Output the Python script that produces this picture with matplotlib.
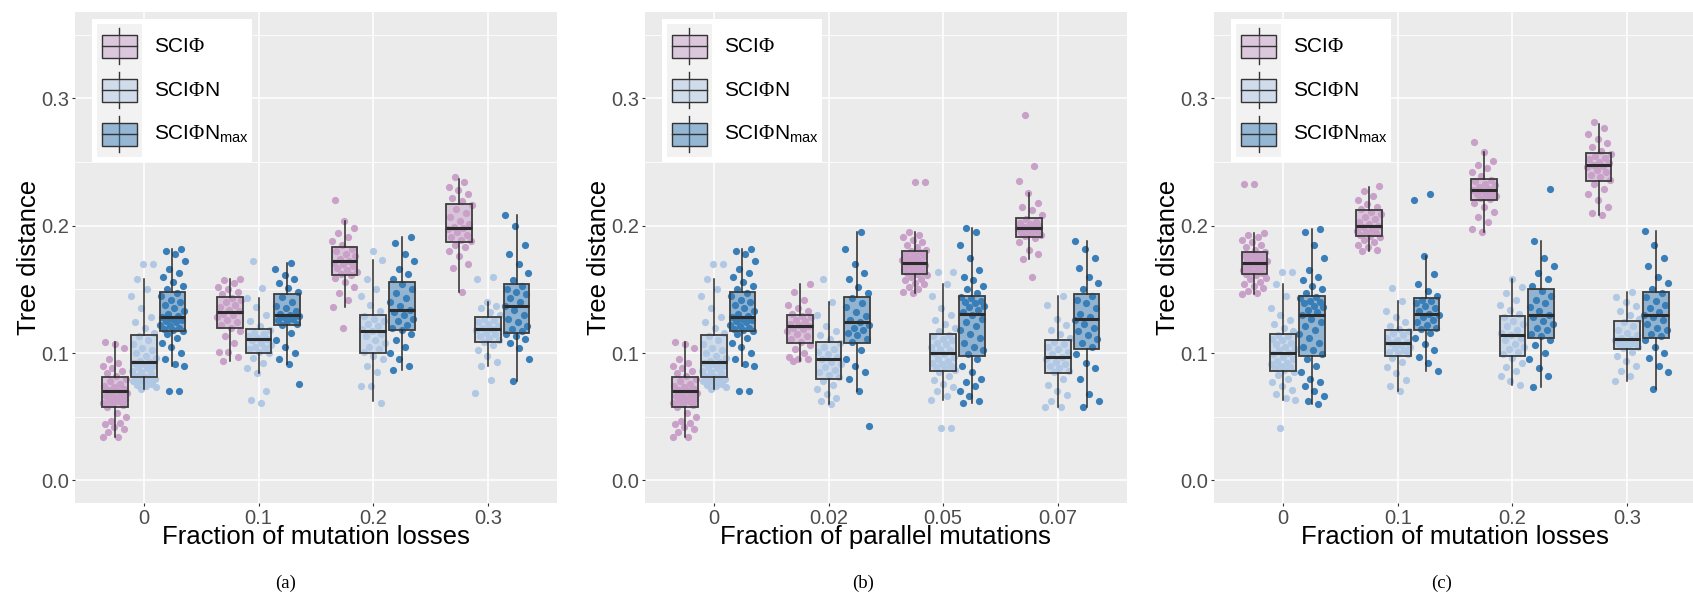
import numpy as np
import matplotlib
matplotlib.use("Agg")
import matplotlib.pyplot as plt
from matplotlib.colors import to_rgba
from matplotlib.patches import Rectangle

plt.rcParams["font.family"] = ["Liberation Sans", "DejaVu Sans"]
plt.rcParams["mathtext.fontset"] = "custom"
plt.rcParams["mathtext.rm"] = "Liberation Serif"
plt.rcParams["mathtext.sf"] = "Liberation Sans"

# ===================== data =====================
methods = [r"SCI$\mathrm{\Phi}$", r"SCI$\mathrm{\Phi}$N", r"SCI$\mathrm{\Phi}$N$_{\mathsf{max}}$"]
colors = ["#C8A0C8", "#B0C8E4", "#3A7EB8"]

loss_levels = ["0", "0.1", "0.2", "0.3"]
parallel_levels = ["0", "0.02", "0.05", "0.07"]

# tree distance x 1000
# box summaries: (whisker low, q1, median, q3, whisker high)
a_phi_box = [(34, 58, 70, 81, 109), (94, 120, 132, 144, 158), (136, 161, 172, 183, 204), (148, 187, 198, 217, 237)]
a_phin_box = [(72, 81, 93, 114, 158), (84, 100, 111, 119, 143), (62, 100, 117, 130, 173), (90, 109, 119, 128, 140)]
a_nmax_box = [(90, 117, 128, 148, 182), (91, 122, 130, 146, 171), (87, 118, 134, 156, 191), (78, 116, 137, 154, 208)]

b_phi_box = [(34, 58, 70, 81, 109), (94, 108, 121, 130, 154), (147, 162, 171, 180, 195), (174, 191, 198, 206, 226)]
b_phin_box = [(72, 81, 93, 114, 158), (60, 80, 95, 109, 140), (63, 86, 100, 115, 154), (58, 84, 97, 110, 145)]
b_nmax_box = [(90, 117, 128, 148, 182), (70, 108, 124, 144, 195), (61, 98, 131, 145, 198), (58, 103, 127, 146, 188)]

c_phi_box = [(146, 162, 171, 179, 194), (180, 192, 200, 212, 230), (195, 220, 228, 237, 258), (208, 235, 248, 257, 280)]
c_phin_box = [(63, 86, 100, 115, 154), (70, 98, 108, 118, 141), (75, 98, 114, 129, 158), (78, 103, 111, 125, 148)]
c_nmax_box = [(60, 98, 130, 145, 197), (86, 118, 131, 143, 176), (73, 112, 130, 150, 188), (72, 112, 130, 148, 196)]

# individual runs
base_phi = [34, 34, 38, 40, 42, 44, 45, 47, 50, 53, 58, 59, 60, 61, 62, 63, 64, 65, 66, 67,
            68, 69, 70, 71, 72, 73, 74, 76, 78, 80, 82, 84, 86, 88, 90, 92, 95, 104, 107, 109]
base_phin = [72, 73, 74, 75, 76, 77, 78, 79, 80, 80, 81, 82, 84, 85, 86, 88, 89, 90, 91, 92,
             93, 94, 96, 98, 100, 102, 104, 107, 110, 113, 116, 120, 124, 128, 135, 145, 150, 158, 170, 170]
base_nmax = [70, 70, 90, 91, 95, 100, 105, 108, 112, 115, 117, 118, 119, 120, 121, 122, 124, 125, 126, 127,
             128, 129, 131, 133, 135, 138, 140, 142, 145, 147, 150, 153, 156, 160, 163, 166, 172, 178, 180, 182]

a_phi_pts = [
    base_phi,
    [94, 97, 101, 101, 108, 113, 117, 120, 122, 124, 126, 128, 130, 131, 133, 134, 136, 138, 140, 142,
     143, 146, 148, 150, 152, 155, 157, 158],
    [120, 136, 142, 147, 152, 156, 159, 161, 162, 164, 165, 167, 168, 170, 171, 172, 174, 176, 178, 180,
     182, 185, 188, 191, 194, 198, 204, 220],
    [148, 167, 170, 176, 180, 183, 185, 188, 189, 191, 193, 195, 197, 198, 199, 201, 204, 207, 210, 213,
     216, 219, 222, 225, 228, 230, 234, 238],
]
a_phin_pts = [
    base_phin,
    [61, 63, 70, 84, 88, 92, 96, 100, 101, 103, 104, 105, 106, 108, 110, 111, 112, 113, 115, 116,
     118, 121, 125, 130, 136, 143, 151, 172],
    [61, 74, 74, 85, 90, 95, 98, 101, 103, 105, 108, 110, 113, 115, 117, 119, 121, 123, 125, 127,
     129, 133, 138, 145, 150, 158, 173, 180],
    [69, 79, 90, 93, 98, 102, 106, 109, 110, 112, 113, 115, 116, 118, 119, 120, 121, 123, 124, 126,
     127, 130, 132, 135, 137, 140, 158, 160],
]
a_nmax_pts = [
    base_nmax,
    [76, 91, 95, 100, 105, 110, 116, 122, 123, 125, 126, 127, 128, 129, 130, 131, 133, 135, 137, 140,
     144, 148, 151, 155, 158, 161, 166, 171],
    [87, 90, 95, 100, 105, 110, 115, 118, 120, 122, 125, 127, 130, 132, 134, 137, 140, 143, 147, 150,
     154, 158, 162, 166, 172, 178, 186, 191],
    [78, 95, 104, 108, 111, 113, 115, 117, 119, 121, 124, 127, 130, 134, 137, 140, 143, 146, 148, 150,
     153, 157, 163, 170, 178, 185, 200, 208],
]

b_phi_pts = [
    base_phi,
    [94, 95, 95, 97, 100, 103, 106, 109, 111, 113, 115, 117, 119, 120, 121, 122, 123, 125, 126, 128,
     129, 131, 133, 135, 138, 142, 148, 154],
    [147, 148, 150, 152, 154, 155, 157, 158, 160, 161, 162, 163, 164, 165, 166, 167, 168, 169, 170, 171,
     171, 172, 173, 174, 175, 176, 177, 178, 179, 180, 181, 183, 185, 187, 189, 191, 193, 195, 234, 234],
    [160, 174, 178, 181, 187, 190, 192, 193, 194, 195, 196, 197, 198, 198, 199, 200, 201, 202, 203, 205,
     208, 212, 215, 218, 226, 235, 247, 287],
]
b_phin_pts = [
    base_phin,
    [60, 62, 65, 68, 72, 75, 78, 81, 83, 85, 87, 89, 91, 93, 95, 97, 99, 101, 103, 105,
     108, 111, 114, 117, 121, 130, 140, 158],
    [41, 41, 63, 66, 70, 73, 76, 79, 82, 85, 87, 88, 89, 90, 91, 92, 94, 95, 97, 99,
     100, 102, 103, 105, 107, 108, 110, 111, 113, 114, 117, 120, 123, 126, 130, 135, 145, 154, 164, 164],
    [58, 58, 62, 67, 70, 75, 80, 85, 86, 88, 90, 91, 93, 95, 97, 99, 101, 103, 105, 107,
     109, 112, 115, 118, 122, 127, 138, 145],
]
b_nmax_pts = [
    base_nmax,
    [43, 70, 80, 85, 90, 95, 102, 109, 111, 114, 116, 118, 120, 122, 124, 126, 129, 132, 136, 139,
     143, 147, 152, 158, 163, 170, 182, 195],
    [61, 62, 66, 70, 74, 77, 80, 85, 90, 95, 99, 102, 105, 108, 112, 115, 118, 121, 124, 127,
     130, 132, 134, 136, 137, 139, 140, 141, 143, 144, 147, 150, 153, 157, 160, 165, 175, 185, 195, 198],
    [58, 62, 68, 80, 88, 92, 99, 105, 108, 111, 114, 117, 120, 123, 126, 128, 131, 135, 139, 142,
     145, 150, 155, 160, 167, 175, 182, 188],
]

c_phi_pts = [
    [146, 147, 149, 151, 153, 154, 156, 158, 159, 161, 162, 163, 164, 165, 166, 167, 168, 169, 170, 171,
     171, 172, 173, 174, 175, 176, 177, 178, 178, 179, 181, 183, 185, 187, 189, 191, 193, 194, 233, 233],
    [180, 181, 183, 185, 187, 189, 191, 192, 193, 194, 195, 196, 197, 199, 200, 201, 203, 205, 207, 209,
     211, 213, 215, 217, 220, 223, 227, 231],
    [195, 197, 203, 207, 211, 215, 218, 221, 222, 223, 224, 225, 226, 227, 228, 229, 230, 232, 233, 235,
     236, 239, 242, 245, 248, 251, 258, 266],
    [208, 210, 215, 220, 225, 229, 233, 236, 238, 240, 242, 244, 246, 247, 248, 249, 250, 252, 253, 255,
     256, 259, 262, 265, 268, 272, 277, 281],
]
c_phin_pts = [
    [41, 63, 65, 68, 71, 74, 77, 80, 83, 85, 87, 88, 89, 90, 91, 92, 94, 95, 97, 99,
     100, 102, 103, 105, 107, 108, 110, 111, 113, 114, 117, 120, 123, 126, 130, 135, 145, 154, 164, 164],
    [70, 74, 79, 84, 89, 93, 96, 99, 100, 101, 102, 104, 105, 106, 108, 109, 110, 112, 114, 116,
     117, 119, 121, 124, 128, 133, 141, 151],
    [75, 78, 82, 86, 89, 92, 96, 99, 101, 103, 105, 107, 110, 112, 114, 116, 118, 121, 123, 125,
     128, 131, 134, 138, 142, 147, 152, 158],
    [78, 82, 86, 90, 94, 98, 101, 104, 105, 106, 107, 108, 109, 110, 111, 112, 114, 116, 118, 121,
     124, 127, 130, 133, 137, 140, 144, 148],
]
c_nmax_pts = [
    [60, 62, 66, 70, 74, 77, 80, 85, 90, 95, 99, 102, 105, 108, 112, 115, 118, 121, 124, 127,
     130, 132, 134, 136, 137, 139, 140, 141, 143, 144, 147, 150, 153, 157, 160, 165, 175, 185, 195, 197],
    [86, 92, 97, 102, 107, 112, 116, 119, 120, 122, 124, 126, 128, 130, 131, 133, 135, 137, 139, 141,
     142, 145, 149, 154, 162, 176, 220, 225],
    [73, 82, 88, 95, 100, 106, 110, 113, 115, 118, 120, 123, 125, 128, 130, 133, 136, 139, 142, 145,
     149, 153, 158, 163, 168, 175, 188, 229],
    [72, 85, 90, 96, 100, 105, 110, 113, 115, 118, 120, 123, 126, 128, 130, 132, 135, 138, 141, 144,
     147, 150, 155, 160, 168, 175, 185, 196],
]

# ===================== style =====================
PANEL_BG = "#EBEBEB"
EDGE = "#3D3D3D"
TICK_COL = "#4D4D4D"
DODGE = 0.25
BOX_W = 0.225
JITTER = 0.22


def draw_panel(ax, levels, boxes, points, xlabel):
    ax.set_facecolor(PANEL_BG)
    for s, (box_list, pts_list, col) in enumerate(zip(boxes, points, colors)):
        off = (s - 1) * DODGE
        for g in range(len(levels)):
            vals = np.asarray(pts_list[g]) / 1000
            n = len(vals)
            spread = ((np.arange(n) * 0.618034 + 0.37 * s + 0.21 * g) % 1 - 0.5) * JITTER
            ax.scatter(g + off + spread, vals, s=27, color=col, linewidths=0, zorder=2)
        stats = [dict(whislo=b[0] / 1000, q1=b[1] / 1000, med=b[2] / 1000,
                      q3=b[3] / 1000, whishi=b[4] / 1000, fliers=[]) for b in box_list]
        ax.bxp(stats, positions=np.arange(len(levels)) + off, widths=BOX_W,
               patch_artist=True, showcaps=False, showfliers=False, manage_ticks=False,
               boxprops=dict(facecolor=to_rgba(col, 0.5), edgecolor=EDGE, linewidth=1.3),
               medianprops=dict(color="#2B2B2B", linewidth=2.2, solid_capstyle="butt"),
               whiskerprops=dict(color="#2B2B2B", linewidth=1.1),
               zorder=3)

    ax.set_xlim(-0.6, len(levels) - 0.4)
    ax.set_ylim(-0.0175, 0.3675)
    ax.set_xticks(np.arange(len(levels)))
    ax.set_xticklabels(levels)
    ax.set_yticks([0.0, 0.1, 0.2, 0.3])
    ax.set_yticklabels(["0.0", "0.1", "0.2", "0.3"])
    ax.set_yticks([0.05, 0.15, 0.25, 0.35], minor=True)
    ax.grid(which="major", color="white", linewidth=1.1, zorder=0)
    ax.grid(which="minor", axis="y", color="white", linewidth=0.55, zorder=0)
    ax.set_axisbelow(True)
    for sp in ax.spines.values():
        sp.set_visible(False)
    ax.tick_params(which="major", length=2.5, width=0.8, color="#333333",
                   labelsize=14.5, labelcolor=TICK_COL, pad=2)
    ax.tick_params(which="minor", length=0)

    ax.set_xlabel(xlabel, fontsize=18.5)
    ax.set_ylabel("Tree distance", fontsize=18.5)
    ax.xaxis.set_label_coords(0.5, -0.046)
    ax.yaxis.set_label_coords(-0.071, 0.5)

    # legend with boxplot keys
    lg = ax.inset_axes([0.0353, 0.6941, 0.3315, 0.2922])
    lg.set_xlim(0, 1)
    lg.set_ylim(0, 1)
    lg.set_facecolor("white")
    lg.set_xticks([])
    lg.set_yticks([])
    for sp in lg.spines.values():
        sp.set_visible(False)
    lg.add_patch(Rectangle((0.0294, 0.037), 0.2816, 0.928, facecolor="#F2F2F2", edgecolor="none"))
    for i, (name, col) in enumerate(zip(methods, colors)):
        cy = 0.809 - i * 0.307
        lg.plot([0.171, 0.171], [cy - 0.123, cy + 0.128], color="#333333", lw=1.0, zorder=1)
        lg.add_patch(Rectangle((0.0626, cy - 0.079), 0.2174, 0.158,
                               facecolor=to_rgba(col, 0.5), edgecolor="#333333", lw=1.0, zorder=2))
        lg.plot([0.0626, 0.28], [cy, cy], color="#333333", lw=1.0, zorder=3)
        lg.text(0.388, cy, name, fontsize=15, va="center", ha="left")


# ===================== figure =====================
fig = plt.figure(figsize=(16.93, 5.96), dpi=100)
W, H = 1693, 596
panels = [
    (75, loss_levels, (a_phi_box, a_phin_box, a_nmax_box), (a_phi_pts, a_phin_pts, a_nmax_pts),
     "Fraction of mutation losses", 286, "(a)"),
    (645, parallel_levels, (b_phi_box, b_phin_box, b_nmax_box), (b_phi_pts, b_phin_pts, b_nmax_pts),
     "Fraction of parallel mutations", 863, "(b)"),
    (1214.3, loss_levels, (c_phi_box, c_phin_box, c_nmax_box), (c_phi_pts, c_phin_pts, c_nmax_pts),
     "Fraction of mutation losses", 1442, "(c)"),
]
for left, levels, boxes, pts, xlabel, cap_x, cap in panels:
    ax = fig.add_axes([left / W, 1 - 502.7 / H, 481.7 / W, 490.4 / H])
    draw_panel(ax, levels, boxes, pts, xlabel)
    fig.text(cap_x / W, 1 - 583 / H, cap, family="Liberation Serif", fontsize=13.5,
             ha="center", va="center")

fig.savefig("out.png", dpi=100)
plt.close(fig)
